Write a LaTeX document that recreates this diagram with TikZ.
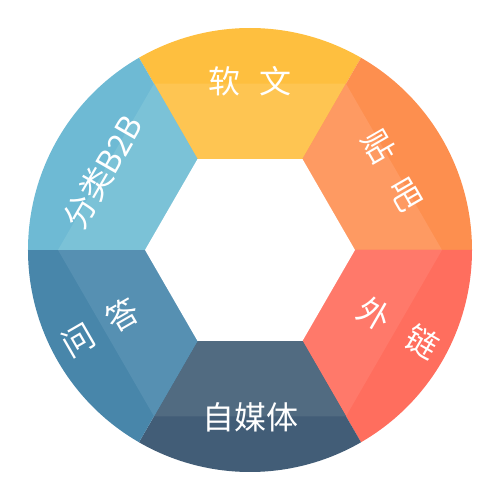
\documentclass[tikz,border=0pt]{standalone}
\usepackage{fontspec}
\setmainfont{Noto Sans CJK SC}
\definecolor{yelD}{HTML}{FEBF3F}
\definecolor{yelL}{HTML}{FEC552}
\definecolor{orD}{HTML}{FD8F4F}
\definecolor{orL}{HTML}{FE9A62}
\definecolor{redD}{HTML}{FF6E5E}
\definecolor{redL}{HTML}{FF796A}
\definecolor{slD}{HTML}{425D77}
\definecolor{slL}{HTML}{516B81}
\definecolor{blD}{HTML}{4886AA}
\definecolor{blL}{HTML}{5690B2}
\definecolor{lbD}{HTML}{6EBAD4}
\definecolor{lbL}{HTML}{7BC2D7}
\tikzset{lbl/.style={text=white, inner sep=0pt, font=\fontsize{32}{38}\selectfont}}
\begin{document}
\begin{tikzpicture}
\useasboundingbox (-250pt,-250pt) rectangle (250pt,250pt);
\foreach \a/\dk/\lt in {60/yelD/yelL, 0/orD/orL, -60/redD/redL, -120/slD/slL, 180/blD/blL, 120/lbD/lbL}{
  \fill[\dk] (0,0) -- (\a:222pt) arc[start angle=\a, end angle=\a+60, radius=222pt] -- cycle;
  \fill[\lt] (\a:105pt) -- (\a:192pt) -- (\a+60:192pt) -- (\a+60:105pt) -- cycle;
}
\fill[white] (0:105pt) -- (60:105pt) -- (120:105pt) -- (180:105pt) -- (240:105pt) -- (300:105pt) -- cycle;
\node[lbl] (ruanwen) at (0pt,169pt) {软\hspace{0.62em}文};
\node[lbl, rotate=-60] (tieba) at (142.5pt,79.5pt) {贴\hspace{0.72em}吧};
\node[lbl, rotate=-30] (wailian) at (148.5pt,-78pt) {外\hspace{0.75em}链};
\node[lbl] (zimeiti) at (0pt,-167pt) {自媒体};
\node[lbl, rotate=30] (wenda) at (-150pt,-77.5pt) {问\hspace{0.58em}答};
\node[lbl, rotate=60] (fenlei) at (-147pt,78pt) {分类B2B};
\end{tikzpicture}
\end{document}
